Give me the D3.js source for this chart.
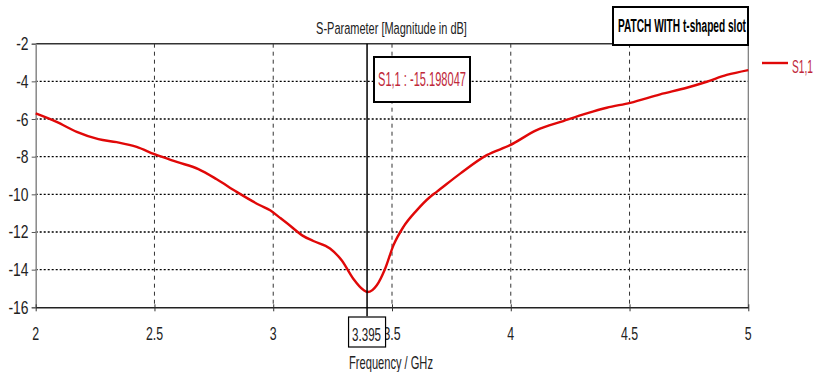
<!DOCTYPE html>
<html><head><meta charset="utf-8">
<script src="https://cdn.jsdelivr.net/npm/d3@7"></script>
<style>
html,body{margin:0;padding:0;background:#fff;}
svg{display:block;}
text{font-family:"Liberation Sans",Arial,sans-serif;}
</style></head><body>
<script>
const freqs = [2.0,2.088,2.173,2.264,2.341,2.425,2.5,2.594,2.685,2.762,2.846,2.944,2.987,3.029,3.057,3.127,3.169,3.239,3.288,3.337,3.379,3.398,3.436,3.471,3.506,3.548,3.604,3.660,3.688,3.787,3.899,3.997,4.109,4.221,4.32,4.404,4.503,4.629,4.741,4.825,4.909,5.0];
const s11 = [-5.70,-6.15,-6.68,-7.07,-7.23,-7.48,-7.87,-8.28,-8.66,-9.2,-9.87,-10.58,-10.85,-11.25,-11.52,-12.22,-12.48,-12.88,-13.5,-14.48,-15.07,-15.19,-14.83,-13.95,-12.71,-11.73,-10.85,-10.14,-9.87,-8.9,-7.92,-7.39,-6.59,-6.11,-5.70,-5.40,-5.14,-4.69,-4.34,-4.02,-3.66,-3.40];
const xTicks = [2,2.5,3,3.5,4,4.5,5];
const xTickLabels = ["2","2.5","3","3.5","4","4.5","5"];
const yTicks = [-2,-4,-6,-8,-10,-12,-14,-16];
const yTickLabels = ["-2","-4","-6","-8","-10","-12","-14","-16"];
const markerFreq = 3.395;
const markerValue = -15.198047;
const titleText = "S-Parameter [Magnitude in dB]";
const xLabel = "Frequency / GHz";
const boxTitle = "PATCH WITH t-shaped slot";
const seriesName = "S1,1";

const W=814,H=372;
const svg=d3.select("body").append("svg").attr("width",W).attr("height",H);
const x=d3.scaleLinear().domain([2,5]).range([35.7,748.3]);
const y=d3.scaleLinear().domain([-16,-2]).range([307.3,43.7]);
const red="#e00808";
const txtCol="#222";

function ntext(parent, str, px, py, size, sx, anchor, fill, weight){
  const g=parent.append("g").attr("transform",`translate(${px},${py}) scale(${sx},1)`);
  return g.append("text").attr("x",0).attr("y",0).attr("font-size",size)
    .attr("text-anchor",anchor||"start").attr("fill",fill||txtCol)
    .attr("font-weight",weight||"normal").text(str);
}
function ftext(parent, str, px, py, size, width, anchor, fill, weight){
  const t=ntext(parent,str,px,py,size,1,anchor,fill,weight);
  const n=t.node().getComputedTextLength();
  d3.select(t.node().parentNode).attr("transform",`translate(${px},${py}) scale(${width/n},1)`);
  return t;
}

// grid
svg.append("g").selectAll("line").data(yTicks.filter(d=>d>-16&&d<-2)).join("line")
 .attr("x1",x(2)).attr("x2",x(5)).attr("y1",d=>y(d)).attr("y2",d=>y(d))
 .attr("stroke","#000").attr("stroke-width",1.3).attr("stroke-dasharray","2,2");
svg.append("g").selectAll("line").data(xTicks.filter(d=>d>2&&d<5)).join("line")
 .attr("x1",d=>x(d)).attr("x2",d=>x(d)).attr("y1",y(-2)).attr("y2",y(-16))
 .attr("stroke","#333").attr("stroke-width",1).attr("stroke-dasharray","4,4");

// frame
svg.append("line").attr("x1",x(2)).attr("x2",613).attr("y1",y(-2)).attr("y2",y(-2)).attr("stroke","#333").attr("stroke-width",1.5);
svg.append("line").attr("x1",x(5)).attr("x2",x(5)).attr("y1",45).attr("y2",y(-16)).attr("stroke","#777").attr("stroke-width",1.2);

// y axis
const ya=svg.append("g").attr("transform",`translate(${x(2)},0)`)
 .call(d3.axisLeft(y).tickValues(yTicks).tickSize(4).tickFormat(""));
ya.select(".domain").attr("stroke","#888").attr("stroke-width",1.5);
ya.selectAll(".tick line").attr("stroke","#555");
yTicks.forEach((d,i)=>ntext(svg,yTickLabels[i],28.5,y(d)+6.5,18,0.77,"end"));

// x axis
const xa=svg.append("g").attr("transform",`translate(0,${y(-16)})`)
 .call(d3.axisBottom(x).tickValues(xTicks).tickSize(4).tickSizeOuter(0).tickFormat(""));
xa.select(".domain").attr("stroke","#222").attr("stroke-width",1.5);
xa.selectAll(".tick line").attr("stroke","#333").attr("y1",-3);
xTicks.forEach((d,i)=>ntext(svg,xTickLabels[i],x(d),339.5,19,0.65,"middle"));

// curve
svg.append("path").datum(freqs.map((f,i)=>[f,s11[i]]))
 .attr("fill","none").attr("stroke",red).attr("stroke-width",2.4)
 .attr("d",d3.line().x(d=>x(d[0])).y(d=>y(d[1])).curve(d3.curveMonotoneX));

// marker
svg.append("line").attr("x1",x(markerFreq)).attr("x2",x(markerFreq)).attr("y1",y(-2)).attr("y2",y(-16)+9)
 .attr("stroke","#000").attr("stroke-width",1.5);
svg.append("rect").attr("x",374).attr("y",57).attr("width",96).attr("height",45)
 .attr("fill","#fff").attr("stroke","#000").attr("stroke-width",2);
ftext(svg,`${seriesName} : ${markerValue.toFixed(6)}`,422,86,20,88,"middle","#c0283a");
svg.append("rect").attr("x",x(markerFreq)-18.5).attr("y",317).attr("width",37).attr("height",30)
 .attr("fill","#fff").attr("stroke","#000").attr("stroke-width",1.2);
ftext(svg,markerFreq.toFixed(3),x(markerFreq)-0.5,341,18,29,"middle");

// titles
ftext(svg,titleText,391.5,34,17,151,"middle");
ftext(svg,xLabel,391,369,18,84,"middle");

// box title
svg.append("rect").attr("x",613).attr("y",7).attr("width",135).attr("height",38)
 .attr("fill","#fff").attr("stroke","#000").attr("stroke-width",2);
ftext(svg,boxTitle,682,32,19,128,"middle","#000","bold");

// legend
svg.append("line").attr("x1",762).attr("x2",788).attr("y1",63).attr("y2",63).attr("stroke",red).attr("stroke-width",2.4);
ftext(svg,seriesName,792,73,18,21,"start","#c0283a");
</script>
</body></html>
